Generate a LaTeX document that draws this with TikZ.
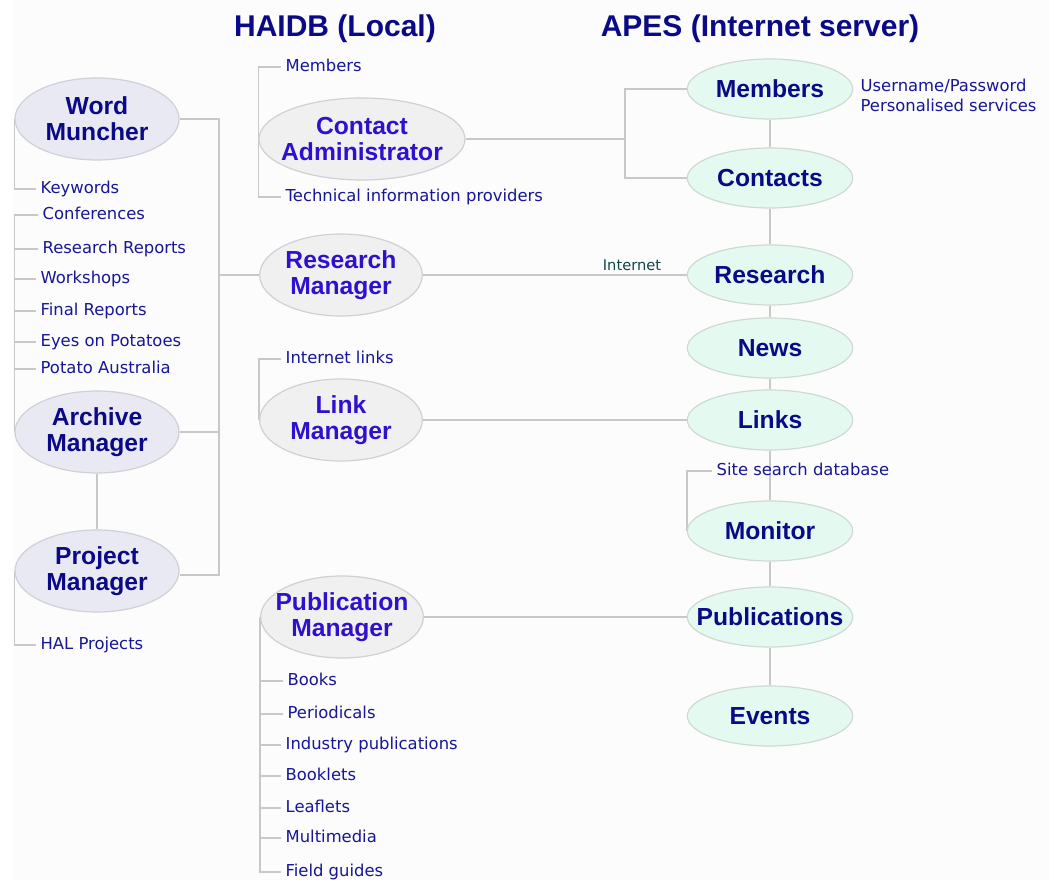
\documentclass[tikz,border=0pt]{standalone}
\usepackage{fontspec}
\setmainfont{DejaVu Sans}
\newfontfamily\ellfont{Liberation Sans}
\usetikzlibrary{shapes.geometric}
\pgfdeclarelayer{paper}
\pgfdeclarelayer{bg}
\pgfsetlayers{paper,bg,main}

\definecolor{linegray}{RGB}{200,200,200}
\definecolor{rimgray}{RGB}{208,208,214}
\definecolor{lavfill}{RGB}{233,233,244}
\definecolor{grayfill}{RGB}{240,240,240}
\definecolor{mintfill}{RGB}{228,250,240}
\definecolor{rimmint}{RGB}{205,218,210}
\definecolor{navy}{RGB}{10,10,135}
\definecolor{violetblue}{RGB}{48,16,205}
\definecolor{subblue}{RGB}{22,22,150}
\definecolor{teal}{RGB}{15,70,70}
\definecolor{panel}{RGB}{252,252,253}

\tikzset{
  conn/.style={draw=linegray, line width=1.2pt},
  ell/.style={ellipse, inner sep=0pt, line width=0.9pt},
  lell/.style={ell, fill=lavfill, draw=rimgray, minimum width=123pt, minimum height=61.5pt},
  mell/.style={ell, fill=grayfill, draw=rimgray, minimum width=122pt, minimum height=61.5pt},
  rell/.style={ell, fill=mintfill, draw=rimmint, minimum width=124pt, minimum height=45pt},
  ltext/.style={font=\ellfont\bfseries\fontsize{18.5}{19.5}\selectfont, text=navy, align=center, inner sep=0pt},
  mtext/.style={font=\ellfont\bfseries\fontsize{18.5}{19.5}\selectfont, text=violetblue, align=center, inner sep=0pt},
  rtext/.style={font=\ellfont\bfseries\fontsize{18.5}{19.5}\selectfont, text=navy, align=center, inner sep=0pt},
  sub/.style={font=\fontsize{12.3}{14}\selectfont, text=subblue, anchor=west, inner sep=0pt,
              outer xsep=3.5pt, text height=0.73em, text depth=0pt},
  title/.style={font=\ellfont\bfseries\fontsize{22.5}{24}\selectfont, text=navy, inner sep=0pt},
}

\begin{document}
\begin{tikzpicture}[x=0.75pt, y=-0.75pt]
\useasboundingbox (0,0) rectangle (1049,880);
\begin{pgfonlayer}{paper}
  \fill[white] (0,0) rectangle (1049,880);
  \fill[panel] (13,0) rectangle (1049,880);
\end{pgfonlayer}

% column headings
\node[title] (th) at (335,29) {HAIDB (Local)};
\node[title] (ta) at (760,29) {APES (Internet server)};

% local (HAIDB) modules
\node[lell, label={[ltext]center:Word\\Muncher}] (wm) at (97,119) {};
\node[lell, label={[ltext]center:Archive\\Manager}] (am) at (97,432) {};
\node[lell, label={[ltext]center:Project\\Manager}] (pm) at (97,571) {};
\node[mell, minimum width=154.5pt, label={[mtext]center:Contact\\Administrator}] (ca) at (362,139) {};
\node[mell, label={[mtext]center:Research\\Manager}] (rm) at (341,275) {};
\node[mell, label={[mtext]center:Link\\Manager}] (lm) at (341,420) {};
\node[mell, label={[mtext]center:Publication\\Manager}] (pbm) at (342,617) {};

% internet server (APES) sections
\node[rell, label={[rtext]center:Members}] (smem) at (770,89) {};
\node[rell, label={[rtext]center:Contacts}] (scon) at (770,178) {};
\node[rell, label={[rtext]center:Research}] (sres) at (770,275) {};
\node[rell, label={[rtext]center:News}] (snew) at (770,348) {};
\node[rell, label={[rtext]center:Links}] (slnk) at (770,420) {};
\node[rell, label={[rtext]center:Monitor}] (smon) at (770,531) {};
\node[rell, label={[rtext]center:Publications}] (spub) at (770,617) {};
\node[rell, label={[rtext]center:Events}] (sevt) at (770,716) {};

% sub-items
\node[sub] (kw) at (36,189) {Keywords};
\node[sub] (cf) at (38,215) {Conferences};
\node[sub] (rr) at (38,249) {Research Reports};
\node[sub] (ws) at (36,279) {Workshops};
\node[sub] (fr) at (36,311) {Final Reports};
\node[sub] (ep) at (36,342) {Eyes on Potatoes};
\node[sub] (pa) at (36,369) {Potato Australia};
\node[sub] (hal) at (36,645) {HAL Projects};

\node[sub] (cmem) at (281,67) {Members};
\node[sub] (tip) at (281,197) {Technical information providers};
\node[sub] (il) at (281,359) {Internet links};

\node[sub] (bk) at (283,681) {Books};
\node[sub] (pd) at (283,714) {Periodicals};
\node[sub] (ip) at (281,745) {Industry publications};
\node[sub] (bl) at (281,776) {Booklets};
\node[sub] (lf) at (281,808) {Leaflets};
\node[sub] (mm) at (281,838) {Multimedia};
\node[sub] (fg) at (281,872) {Field guides};

\node[sub] (ssd) at (712,471) {Site search database};
\node[sub] (up) at (856,87) {Username/Password};
\node[sub] (ps) at (856,107) {Personalised services};

\node[font=\fontsize{11}{12}\selectfont, text=teal, inner sep=0pt] (inet) at (632,265) {Internet};

% connectors
\coordinate (lbus) at (219,0);
\coordinate (rbus) at (625,0);
\begin{pgfonlayer}{bg}
  % bus joining the local modules to the Research Manager
  \draw[conn] (wm.east) -- (wm.east -| lbus) -- ([yshift=-3pt]pm.east -| lbus) -- ([yshift=-3pt]pm.east);
  \draw[conn] (am.east) -- (am.east -| lbus);
  \draw[conn] (rm.west -| lbus) -- (rm.west);
  \draw[conn] (am.south) -- (pm.north);

  % sub-item trees
  \draw[conn] (wm.west) |- (kw.west);
  \draw[conn] (cf.west) -| (am.west);
  \foreach \s in {rr,ws,fr,ep,pa} \draw[conn] (\s.west) -- (\s.west -| am.west);
  \draw[conn] (pm.west) |- (hal.west);

  \draw[conn] (ca.west) |- (cmem.west);
  \draw[conn] (ca.west) |- (tip.west);
  \draw[conn] (lm.west) |- (il.west);
  \draw[conn] (pbm.west) |- (fg.west);
  \foreach \s in {bk,pd,ip,bl,lf,mm} \draw[conn] (\s.west) -- (\s.west -| pbm.west);
  \draw[conn] (smon.west) |- (ssd.west);

  % local modules to server sections
  \draw[conn] (ca.east) -- (ca.east -| rbus);
  \draw[conn] (smem.west) -| (scon.west -| rbus) -- (scon.west);
  \draw[conn] (rm.east) -- (sres.west);
  \draw[conn] (lm.east) -- (slnk.west);
  \draw[conn] (pbm.east) -- (spub.west);

  % chain of server sections
  \draw[conn] (smem) -- (scon) -- (sres) -- (snew) -- (slnk) -- (smon) -- (spub) -- (sevt);
\end{pgfonlayer}
\end{tikzpicture}
\end{document}
